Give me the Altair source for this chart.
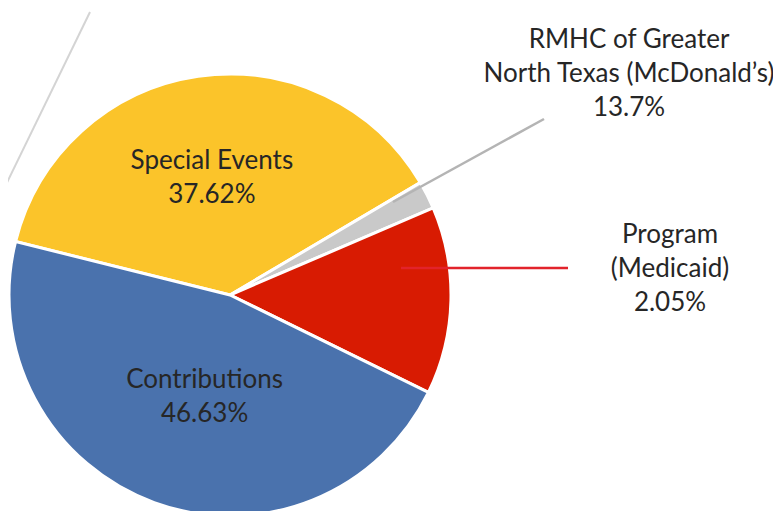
import math
import altair as alt
import pandas as pd

# ---- data ----
categories = ["Special Events", "RMHC of Greater North Texas (McDonald’s)", "Program (Medicaid)", "Contributions"]
shares = [37.62, 2.05, 13.7, 46.63]
slice_order = [0, 1, 2, 3]
inner_labels = ["Special Events\n37.62%", "", "", "Contributions\n46.63%"]
rmhc_label = "RMHC of Greater\nNorth Texas (McDonald’s)\n13.7%"
program_label = "Program\n(Medicaid)\n2.05%"
colors = ["#FBC42A", "#C9C9C9", "#D81B02", "#4A72AD"]

FONT = "Lato"
FS = 26
LH = 34
TEXT_COLOR = "#262626"

df = pd.DataFrame({
    "category": categories,
    "share": shares,
    "order": slice_order,
    "inner": inner_labels,
})

cx, cy = 222, 287          # pie centre inside the view
start = math.radians(284)  # first slice starts at this angle
theta_scale = alt.Scale(domain=[0, 100], range=[start, start + 2 * math.pi])

color = alt.Color("category:N", scale=alt.Scale(domain=categories, range=colors), legend=None)

base = alt.Chart(df)

pie = base.mark_arc(outerRadius=221, stroke="white", strokeWidth=3).encode(
    theta=alt.Theta("share:Q", stack=True, scale=theta_scale),
    color=color, order=alt.Order("order:Q"),
    x=alt.value(cx), y=alt.value(cy),
)

mids = base.transform_window(
    cum="sum(share)", sort=[alt.SortField("order")], frame=[None, 0]
).transform_calculate(mid="datum.cum - datum.share / 2")

def inner_label(cat, radius, dx, dy):
    return mids.transform_filter(alt.datum.category == cat).mark_text(
        radius=radius, dx=dx, dy=dy, font=FONT, fontSize=FS, color=TEXT_COLOR,
        lineBreak="\n", lineHeight=LH, align="center", baseline="middle").encode(
        theta=alt.Theta("mid:Q", stack=None, scale=theta_scale), text="inner:N",
        x=alt.value(cx), y=alt.value(cy),
    )

one = pd.DataFrame({"k": [0]})

def rule(x1, y1, x2, y2, col, w):
    return alt.Chart(one).mark_rule(color=col, strokeWidth=w).encode(
        x=alt.value(x1), y=alt.value(y1), x2=alt.value(x2), y2=alt.value(y2))

def label(txt, x, y):
    return alt.Chart(pd.DataFrame({"t": [txt]})).mark_text(
        font=FONT, fontSize=FS, color=TEXT_COLOR, lineBreak="\n", lineHeight=LH,
        align="center", baseline="middle").encode(
        text="t:N", x=alt.value(x), y=alt.value(y))

left_line = rule(82, 4, -8, 189, "#D4D4D4", 2)
gray_line = rule(385, 194, 536, 111, "#B4B4B4", 2.5)
red_line = rule(393, 260, 560, 260, "#E2232B", 2.5)

chart = alt.layer(
    pie,
    inner_label("Special Events", 112, -2, -23),
    inner_label("Contributions", 112, 13, -20),
    left_line, gray_line, red_line,
    label(rmhc_label, 621, 32),
    label(program_label, 662, 227),
).properties(
    width=765, height=503,
    autosize=alt.AutoSizeParams(type="none"),
    padding=0,
    background="white",
).configure_view(stroke=None)

chart.save("out.html", embed_options={"renderer": "svg", "actions": False})
